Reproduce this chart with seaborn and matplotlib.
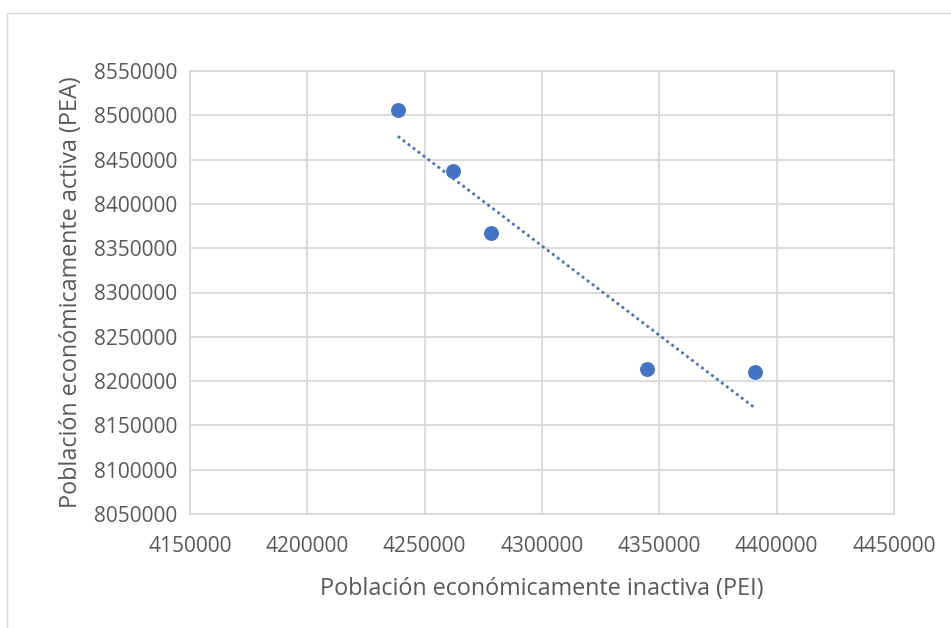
import numpy as np
import pandas as pd
import matplotlib
matplotlib.use("Agg")
import matplotlib.pyplot as plt
from matplotlib.lines import Line2D
import seaborn as sns

# Values
pei = [4238600, 4261900, 4278400, 4344900, 4390700]
pea = [8505600, 8437100, 8367200, 8213500, 8210000]
x_ticks = [4150000, 4200000, 4250000, 4300000, 4350000, 4400000, 4450000]
y_ticks = [8050000, 8100000, 8150000, 8200000, 8250000, 8300000,
           8350000, 8400000, 8450000, 8500000, 8550000]
x_label = "Población económicamente inactiva (PEI)"
y_label = "Población económicamente activa (PEA)"

df = pd.DataFrame({"pei": pei, "pea": pea})

sns.set_style("white")
plt.rcParams["font.family"] = ["Open Sans", "DejaVu Sans"]

blue = "#4472C4"
grid_c = "#d9d9d9"
text_c = "#595959"

fig = plt.figure(figsize=(9.51, 6.28), dpi=100)
ax = fig.add_axes([190 / 951, 1 - 514 / 628, 704 / 951, 443 / 628])

sns.regplot(x="pei", y="pea", data=df, ax=ax, ci=None, color=blue,
            scatter_kws={"s": 115, "alpha": 1, "linewidths": 0, "zorder": 3},
            line_kws={"linewidth": 2.0, "dashes": (1, 1.25),
                      "dash_capstyle": "butt", "zorder": 4})

ax.set_xlim(x_ticks[0], x_ticks[-1])
ax.set_ylim(y_ticks[0], y_ticks[-1])
ax.set_xticks(x_ticks)
ax.set_yticks(y_ticks)
ax.set_xticklabels([str(v) for v in x_ticks])
ax.set_yticklabels([str(v) for v in y_ticks])

ax.grid(True, color=grid_c, linewidth=1.3)
ax.set_axisbelow(True)
for sp in ax.spines.values():
    sp.set_color(grid_c)
    sp.set_linewidth(1.3)

ax.tick_params(axis="x", length=0, pad=16, labelsize=15, labelcolor=text_c)
ax.tick_params(axis="y", length=0, pad=9, labelsize=15, labelcolor=text_c)

ax.set_xlabel(x_label, fontsize=16.8, color=text_c, labelpad=14)
ax.set_ylabel(y_label, fontsize=16.8, color=text_c, labelpad=8)

# faint chart-area border like the Excel export
fig.add_artist(Line2D([7 / 951, 7 / 951], [0, 1 - 13 / 628],
                      transform=fig.transFigure, color=grid_c, linewidth=1))
fig.add_artist(Line2D([7 / 951, 1], [1 - 13 / 628, 1 - 13 / 628],
                      transform=fig.transFigure, color=grid_c, linewidth=1))

fig.savefig("out.png", dpi=100)
